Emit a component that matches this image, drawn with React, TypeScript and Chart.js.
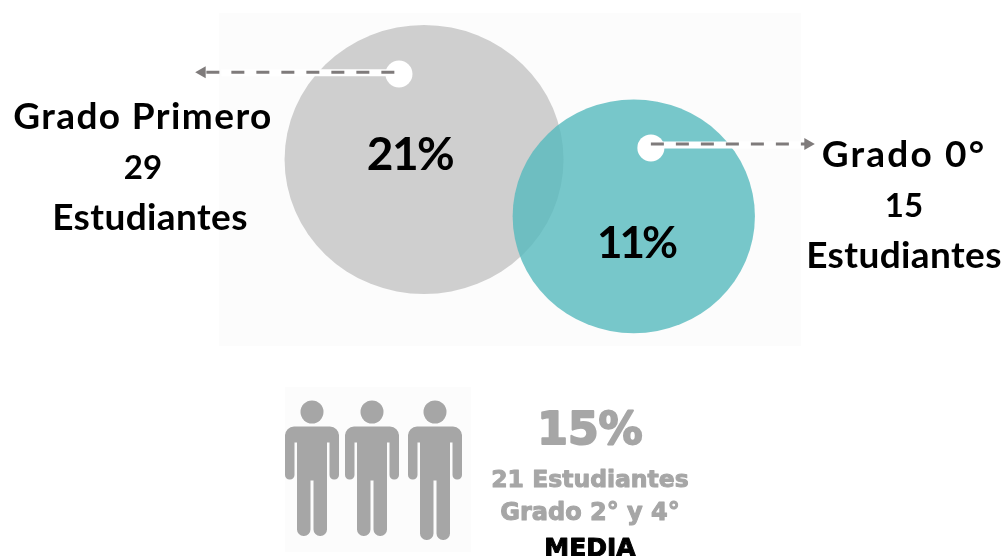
import React, { useEffect, useRef } from "react";
import { Chart, registerables } from "chart.js";

Chart.register(...registerables);

// Enrolment bubbles: share of students per grade
const gradeNames = ["Grado Primero", "Grado 0°"];
const gradeShares = ["21%", "11%"];
const gradeStudents = ["29", "15"];
const bubbleX = [42.15, 63.0];
const bubbleY = [71.3, 61.1];
const bubbleR = [137, 119];

// Small markers that the callout arrows start from
const markerX = [39.66, 64.7];
const markerY = [86.7, 73.4];
const markerR = [13.5, 13.5];

// Callout arrows, start and end in axis units
const leftArrowX = [39.2, 20.1];
const leftArrowY = [87.0, 87.0];
const rightArrowX = [64.7, 80.3];
const rightArrowY = [74.1, 74.1];

// Summary block for the middle grades
const mediaLines = ["15%", "21 Estudiantes", "Grado 2° y 4°", "MEDIA"];

const WIDTH = 1006;
const HEIGHT = 556;
const FONT = "Lato, 'Open Sans', sans-serif";
const HEAVY = "'DejaVu Sans', sans-serif";
const GREY_TEXT = "#a6a6a6";

type TextItem = {
  text: string;
  x: number;
  y: number;
  font: string;
  color?: string;
  spacing?: string;
  outline?: number;
};

const textItems: TextItem[] = [
  { text: gradeNames[0], x: 143, y: 117, font: `700 37px ${FONT}`, spacing: "1.4px" },
  { text: gradeStudents[0], x: 143, y: 168, font: `700 33px ${FONT}` },
  { text: "Estudiantes", x: 150, y: 218, font: `700 37px ${FONT}`, spacing: "0.4px" },
  { text: gradeNames[1], x: 904, y: 155, font: `700 37px ${FONT}`, spacing: "2.2px" },
  { text: gradeStudents[1], x: 904, y: 206, font: `700 33px ${FONT}` },
  { text: "Estudiantes", x: 904, y: 256, font: `700 37px ${FONT}`, spacing: "0.4px" },
  { text: gradeShares[0], x: 410, y: 155, font: `700 46px ${FONT}`, spacing: "-1.5px" },
  { text: gradeShares[1], x: 636, y: 244, font: `700 44px ${FONT}`, spacing: "-3px" },
  { text: mediaLines[0], x: 590, y: 433, font: `700 44px ${HEAVY}`, color: GREY_TEXT, outline: 2 },
  { text: mediaLines[1], x: 590, y: 481, font: `700 23.5px ${HEAVY}`, color: GREY_TEXT, outline: 1 },
  { text: mediaLines[2], x: 590, y: 514, font: `700 24px ${HEAVY}`, color: GREY_TEXT, outline: 1 },
  { text: mediaLines[3], x: 590, y: 549, font: `700 25px ${HEAVY}`, color: "#000000", outline: 1 },
];

// Pictogram of one standing figure
function drawPerson(ctx: CanvasRenderingContext2D, cx: number, footY: number) {
  const top = 426.5;
  ctx.fillStyle = "#a6a6a6";
  ctx.beginPath();
  ctx.arc(cx, 412, 11.5, 0, Math.PI * 2);
  ctx.fill();
  ctx.beginPath();
  ctx.roundRect(cx - 27, top, 54, 16, [9, 9, 0, 0]);
  ctx.roundRect(cx - 27, top + 8, 9.5, 45, [0, 0, 4.5, 4.5]);
  ctx.roundRect(cx + 17.5, top + 8, 9.5, 45, [0, 0, 4.5, 4.5]);
  ctx.rect(cx - 15, top + 8, 30, 46);
  ctx.roundRect(cx - 15, top + 50, 13.5, footY - top - 50, [0, 0, 6.5, 6.5]);
  ctx.roundRect(cx + 1.5, top + 50, 13.5, footY - top - 50, [0, 0, 6.5, 6.5]);
  ctx.fill();
}

const backdropPlugin = {
  id: "backdrop",
  beforeDatasetsDraw(chart: Chart) {
    const { ctx } = chart;
    ctx.save();
    ctx.fillStyle = "#fcfcfc";
    ctx.fillRect(219, 13, 582, 333);
    ctx.fillRect(285, 387, 186, 165);
    drawPerson(ctx, 312, 536);
    drawPerson(ctx, 372, 536);
    drawPerson(ctx, 435, 540);
    ctx.restore();
  },
  // The two large bubbles are slightly wider than tall
  beforeDatasetDraw(chart: Chart, args: { index: number }) {
    if (args.index > 1) return;
    const el = chart.getDatasetMeta(args.index).data[0];
    const { ctx } = chart;
    ctx.save();
    ctx.translate(el.x, el.y);
    ctx.scale(1.018, 0.982);
    ctx.translate(-el.x, -el.y);
  },
  afterDatasetDraw(chart: Chart, args: { index: number }) {
    if (args.index > 1) return;
    chart.ctx.restore();
  },
  afterDatasetsDraw(chart: Chart) {
    const { ctx } = chart;
    ctx.save();
    ctx.textAlign = "center";
    ctx.textBaseline = "middle";
    ctx.lineJoin = "round";
    for (const item of textItems) {
      ctx.font = item.font;
      ctx.fillStyle = item.color ?? "#000000";
      (ctx as any).letterSpacing = item.spacing ?? "0px";
      ctx.fillText(item.text, item.x, item.y);
      if (item.outline) {
        ctx.strokeStyle = ctx.fillStyle;
        ctx.lineWidth = item.outline;
        ctx.strokeText(item.text, item.x, item.y);
      }
    }
    ctx.restore();
  },
};

const toPoints = (xs: number[], ys: number[]) => xs.map((x, i) => ({ x, y: ys[i] }));

export default function App() {
  const canvasRef = useRef<HTMLCanvasElement>(null);

  useEffect(() => {
    if (!canvasRef.current) return;
    const band = { type: "line", borderColor: "#ffffff", borderWidth: 7, pointRadius: 0, order: 4 };
    const arrow = {
      type: "line",
      borderColor: "#7f7b7b",
      backgroundColor: "#7f7b7b",
      borderWidth: 3,
      borderDash: [13, 12],
      pointRadius: [0, 7],
      pointBorderWidth: 0,
      pointStyle: "triangle",
      order: 2,
    };
    const chart = new Chart(canvasRef.current, {
      type: "bubble",
      data: {
        datasets: [
          {
            label: gradeNames[0],
            data: [{ x: bubbleX[0], y: bubbleY[0], r: bubbleR[0] }],
            backgroundColor: "#cfcfcf",
            borderWidth: 0,
            order: 6,
          },
          {
            label: gradeNames[1],
            data: [{ x: bubbleX[1], y: bubbleY[1], r: bubbleR[1] }],
            backgroundColor: "rgba(85,185,189,0.8)",
            borderWidth: 0,
            order: 5,
          },
          {
            ...band,
            label: "band-left",
            data: toPoints([leftArrowX[0], 22], [86.9, 86.9]),
          },
          {
            ...band,
            label: "band-right",
            data: toPoints([rightArrowX[0], 80], [73.9, 73.9]),
          },
          {
            label: "markers",
            data: markerX.map((x, i) => ({ x, y: markerY[i], r: markerR[i] })),
            backgroundColor: "#ffffff",
            borderWidth: 0,
            order: 3,
          },
          {
            ...arrow,
            label: "arrow-left",
            data: toPoints(leftArrowX, leftArrowY),
            pointRotation: -90,
          },
          {
            ...arrow,
            label: "arrow-right",
            data: toPoints(rightArrowX, rightArrowY),
            pointRotation: 90,
          },
        ] as any,
      },
      options: {
        animation: false,
        responsive: false,
        layout: { padding: 0, autoPadding: false },
        plugins: { legend: { display: false }, tooltip: { enabled: false } },
        scales: {
          x: { type: "linear", min: 0, max: 100, display: false },
          y: { type: "linear", min: 0, max: 100, display: false },
        },
      },
      plugins: [backdropPlugin as any],
    });
    return () => chart.destroy();
  }, []);

  return (
    <div style={{ position: "fixed", left: 0, top: 0, width: WIDTH, height: HEIGHT, background: "#ffffff" }}>
      <canvas ref={canvasRef} width={WIDTH} height={HEIGHT} style={{ display: "block" }} />
    </div>
  );
}
